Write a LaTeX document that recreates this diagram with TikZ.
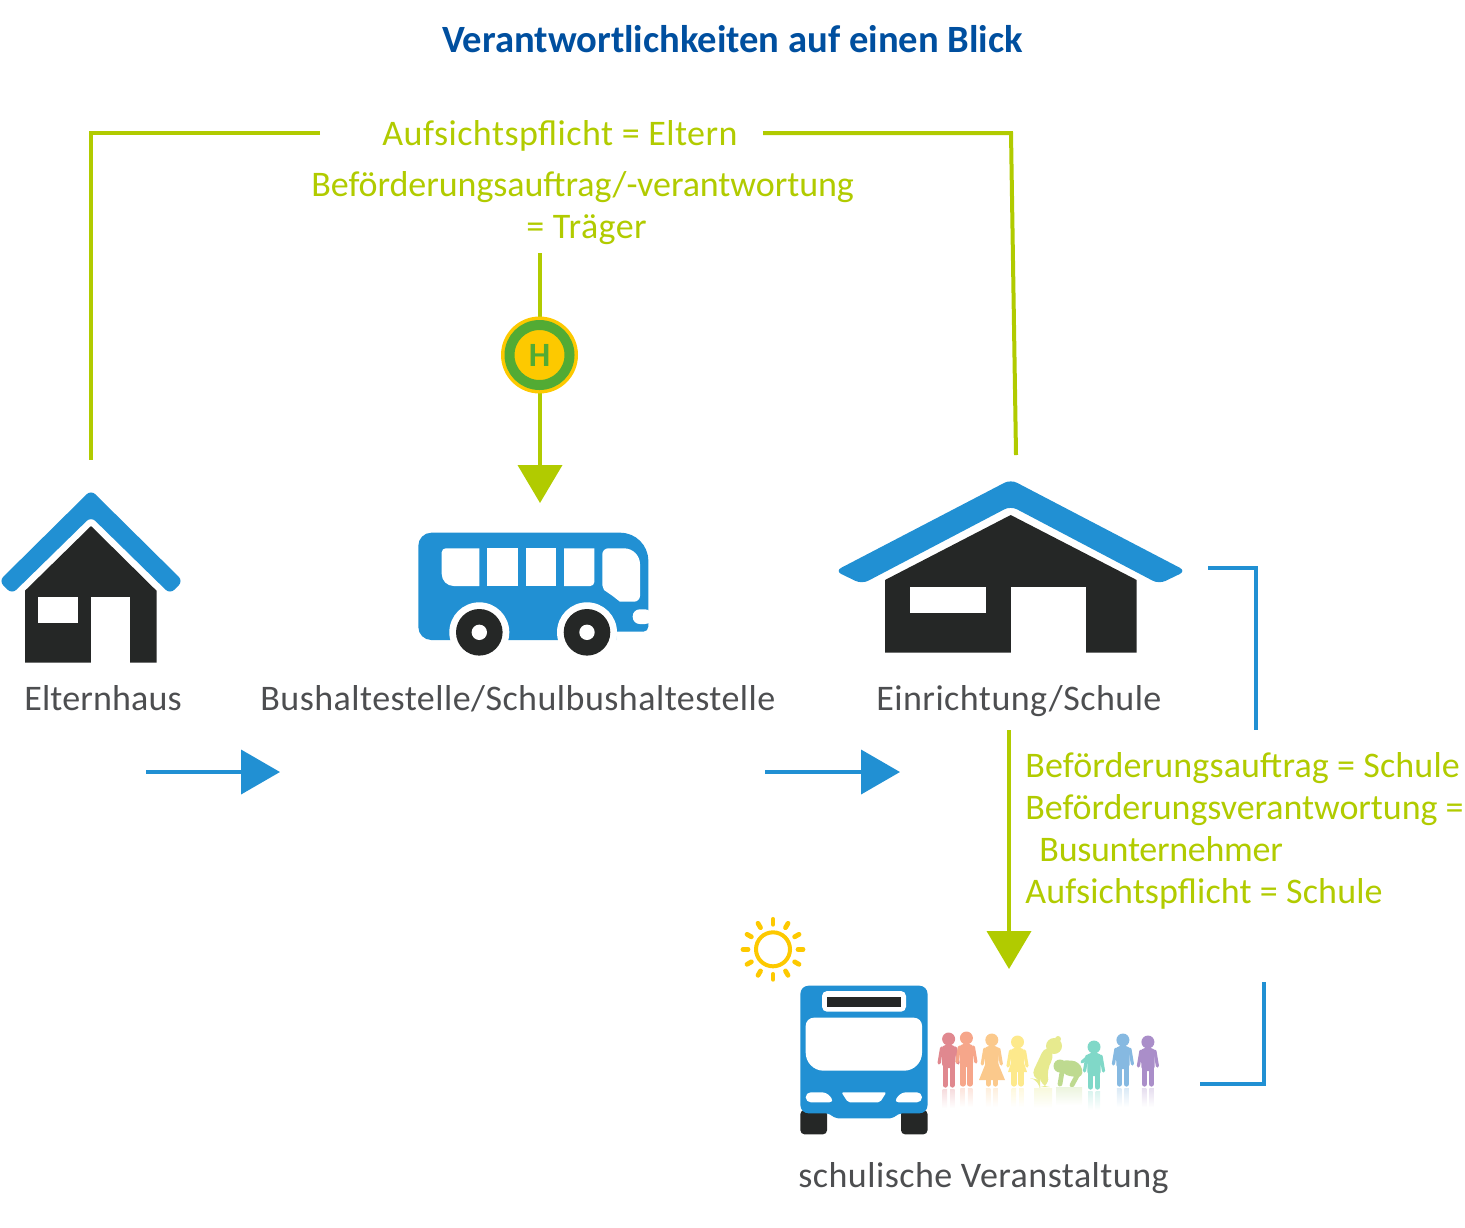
\documentclass[tikz,border=0pt]{standalone}
\usepackage{fontspec}
\setmainfont{Carlito}
\newfontfamily\wide[LetterSpace=1.3]{Carlito}
\newfontfamily\halfwide[LetterSpace=.4]{Carlito}
\newfontfamily\closefont[LetterSpace=-.15]{Carlito}
\newfontfamily\closerfont[LetterSpace=-.8]{Carlito}
\usetikzlibrary{arrows.meta}
\definecolor{lime}{HTML}{B1CB00}
\definecolor{busblue}{HTML}{2190D3}
\definecolor{coal}{HTML}{252726}
\definecolor{word}{HTML}{4D4E50}
\definecolor{titleblue}{HTML}{004F9F}
\definecolor{stopyellow}{HTML}{FDC900}
\definecolor{stopgreen}{HTML}{52AB34}
\definecolor{kida}{HTML}{E0888F}
\definecolor{kidb}{HTML}{F6A68A}
\definecolor{kidc}{HTML}{FBC98C}
\definecolor{kidd}{HTML}{FDE98C}
\definecolor{kide}{HTML}{E7EA8E}
\definecolor{kidf}{HTML}{BEDA90}
\definecolor{kidg}{HTML}{80D8C8}
\definecolor{kidh}{HTML}{86B9E1}
\definecolor{kidi}{HTML}{AA8EC9}
\tikzset{
  greenline/.style={draw=lime,line width=2pt},
  blueline/.style={draw=busblue,line width=2pt},
  greenarrow/.style={greenline,-{Triangle[length=19pt,width=22pt]}},
  bluearrow/.style={blueline,-{Triangle[length=19.5pt,width=22pt]}},
  greentext/.style={text=lime,font=\wide\fontsize{18}{21}\selectfont,inner sep=0pt,anchor=base west},
  graytext/.style={text=word,font=\wide\fontsize{18}{21}\selectfont,inner sep=0pt,anchor=base west},
  haltstop/.style={circle,draw=stopgreen,fill=stopyellow,line width=5pt,minimum size=30pt,inner sep=0pt,
    text=stopgreen,font=\bfseries\fontsize{17}{17}\selectfont},
}
\begin{document}
\begin{tikzpicture}[x=.5pt,y=-.5pt]
\useasboundingbox (0,0) rectangle (1465,1227);

\node[text=titleblue,font=\bfseries\fontsize{19.3}{23}\selectfont,inner sep=0pt,anchor=base] (title) at (732.5,52) {Verantwortlichkeiten auf einen Blick};

\node[greentext] (pflicht) at (382,145) {Aufsichtspflicht = Eltern};
\node[greentext] (auftrag) at (311,196) {\closefont Beförderungsauftrag/-verantwortung};
\node[greentext] (traeger) at (526,238) {= Träger};
\node[graytext] (eltern) at (24,710) {\halfwide Elternhaus};
\node[graytext] (halte) at (260,710) {Bushaltestelle/Schulbushaltestelle};
\node[graytext] (schule) at (876,710) {Einrichtung/Schule};
\node[greentext] (listA) at (1025,777) {\halfwide Beförderungsauftrag = Schule};
\node[greentext] (listB) at (1025,819) {\closefont Beförderungsverantwortung =};
\node[greentext] (listC) at (1039,861) {\closerfont Busunternehmer};
\node[greentext] (listD) at (1025,903) {\halfwide Aufsichtspflicht = Schule};
\node[graytext] (fahrt) at (798,1187) {schulische Veranstaltung};

% house
\fill[coal] (91,526)--(156.5,590.7)--(156.5,662.7)--(25,662.7)--(25,590.7)--cycle;
\fill[white] (38.3,597.3) rectangle (77.7,623.3);
\fill[white] (91,597.3) rectangle (130,662.7);
\fill[busblue,rounded corners=3pt] (91,490)--(183,581)--(170,594)--(91,516.7)--(12,594)--(-1,581)--cycle;

% building
\fill[coal] (1010.7,515)--(1136.7,580)--(1136.7,652.7)--(885,652.7)--(885,580)--cycle;
\fill[white] (910,586.7) rectangle (985.7,613.3);
\fill[white] (1011,586.7) rectangle (1086.3,652.7);
\fill[busblue,rounded corners=3.5pt] (1010.7,479.5)--(1186,571)--(1159,584)--(1010.7,506)--(862,584)--(835,571)--cycle;

% side view of the bus
\fill[busblue] (440,640) [rounded corners=6.5pt] --(418.3,640)--(418.3,532.7)
  [rounded corners=14pt] --(648.3,532.7) [rounded corners=2.5pt] --(648.3,631.7)
  [sharp corners] --(616,631.7)--(616,640)--cycle;
\fill[white] (479.3,586) [rounded corners=6pt] --(441.7,586) [rounded corners=2pt] --(441.7,548.3) [sharp corners] --(479.3,548.3)--cycle;
\fill[white] (487.3,548.3) rectangle (517.7,586);
\fill[white] (525.7,548.3) rectangle (556,586);
\fill[white] (564,548.3)--(594.3,548.3) [rounded corners=2pt] --(594.3,586) [sharp corners] --(564,586)--cycle;
\fill[white] (602.3,585) [rounded corners=3pt] --(602.3,548.3) [rounded corners=8pt] --(640,548.3)
  [rounded corners=3pt] --(640,601.7) [sharp corners] --(620,601.7)--(612,595.5)--(604,590)--cycle;
\fill[white,rounded corners=3.5pt] (652,609.3)--(632.7,609.3)--(632.7,624)--(652,624)--cycle;
\foreach \x in {479.3,587}{
  \fill[white] (\x,632.3) circle (30);
  \fill[coal] (\x,632.3) circle (23.3);
  \fill[white] (\x,632.3) circle (7.7);}

% stop sign on the line
\coordinate (ziel) at (540,503);
\coordinate (start) at (540,253);
\draw[greenarrow] (start)--(ziel);
\fill[stopyellow] (539.5,355) circle (38.5);
\node[haltstop] (halt) at (539.5,355) {H};

% lines
\coordinate (pflichtL) at (320,133);
\coordinate (pflichtR) at (763,133);
\coordinate (hausOben) at (91,460);
\coordinate (ecke) at (1011,133);
\coordinate (schuleOben) at (1016,455);
\draw[greenline] (pflichtL)-|(hausOben);
\draw[greenline] (pflichtR)--(ecke)--(schuleOben);
\coordinate (pfeilA) at (146,772);
\coordinate (pfeilB) at (280,772);
\coordinate (pfeilC) at (765,772);
\coordinate (pfeilD) at (900,772);
\draw[bluearrow] (pfeilA)--(pfeilB);
\draw[bluearrow] (pfeilC)--(pfeilD);
\coordinate (abA) at (1009,730);
\coordinate (abB) at (1009,969);
\draw[greenarrow] (abA)--(abB);
\coordinate (klaA) at (1208,568);
\coordinate (klaB) at (1256,730);
\coordinate (klaC) at (1264,982);
\coordinate (klaD) at (1200,1084);
\draw[blueline] (klaA)-|(klaB);
\draw[blueline] (klaC)|-(klaD);

% front view of the bus
\fill[coal,rounded corners=2pt] (800.4,1110) rectangle (827,1134.3);
\fill[coal,rounded corners=2pt] (901,1110) rectangle (927.5,1134.3);
\fill[busblue] (864,985.7) [rounded corners=4pt] --(927.5,985.7)--(927.5,1113.3)
  [rounded corners=1pt] --(900,1113.3)--(892,1118.3)--(836,1118.3)--(828,1113.3)
  [rounded corners=4pt] --(800.4,1113.3)--(800.4,985.7)--cycle;
\fill[white,rounded corners=2.5pt] (822,991) rectangle (906,1011.7);
\fill[coal] (827,996.7) rectangle (901.4,1007.3);
\fill[white] (864,1017.7) [rounded corners=4pt] --(922,1017.7) [rounded corners=9pt] --(922,1070.7)
  --(805.7,1070.7) [rounded corners=4pt] --(805.7,1017.7)--cycle;
\fill[white,rounded corners=2.5pt] (805.7,1102.3)--(805.7,1092.3)--(827,1092.3)--(834.5,1102.3)--cycle;
\fill[white,rounded corners=1pt] (841.4,1092.3)--(886.4,1092.3)--(880,1102.3)--(848,1102.3)--cycle;
\fill[white,rounded corners=2.5pt] (922,1102.3)--(922,1092.3)--(901,1092.3)--(893.5,1102.3)--cycle;

% sun
\draw[stopyellow,line width=2pt] (773,949.3) circle (17);
\foreach \a in {0,30,...,330}{
  \draw[stopyellow,line width=2.4pt,line cap=round] (773,949.3)+(\a:25)--+(\a:30);}

% children
\foreach \x/\h/\f/\col in {948.6/1039/1088/kida,966.4/1038/1087/kidb,991.8/1040/1087/kidc,1017.5/1042/1087/kidd,
    1094/1047/1090/kidg,1122.9/1040/1087/kidh,1147.9/1042/1087/kidi}{
  \fill[\col] (\x,\h) circle (6.5);
  \fill[\col,rounded corners=2pt] (\x-7,\h+6)--(\x+7,\h+6)--(\x+6.5,\h+29)--(\x-6.5,\h+29)--cycle;
  \draw[\col,line width=2.6pt,line cap=round] (\x-3.5,\h+26)--(\x-3.5,\f-3);
  \draw[\col,line width=2.6pt,line cap=round] (\x+3.5,\h+26)--(\x+3.5,\f-3);
  \draw[\col,line width=1.6pt,line cap=round] (\x-7,\h+9)--(\x-9.5,\h+24);
  \draw[\col,line width=1.6pt,line cap=round] (\x+7,\h+9)--(\x+9.5,\h+24);
  \shade[top color=\col!30,bottom color=white] (\x-6,\f+1) rectangle (\x-1.5,\f+20);
  \shade[top color=\col!30,bottom color=white] (\x+1.5,\f+1) rectangle (\x+6,\f+20);}
% dresses
\fill[kidc] (991.8,1048)--(1005,1080)--(979,1080)--cycle;
\fill[kidd] (1017.5,1044)--(1027,1072)--(1008,1072)--cycle;
% reaching arm
\draw[kidg,line width=1.6pt,line cap=round] (1090,1055)--(1082,1062);

% bent child and small one on the ground
\fill[kide] (1054,1046) circle (8);
\fill[kide] (1058,1039) circle (3);
\fill[kide,rounded corners=5pt] (1046,1044)--(1056,1054)--(1046,1070)--(1050,1087)--(1040,1087)--(1040,1080)--(1030,1078)--cycle;
\shade[top color=kide!30,bottom color=white] (1034,1088) rectangle (1052,1108);
\fill[kidf] (1060,1066) circle (6.5);
\fill[kidf,rounded corners=4pt] (1058,1060)--(1080,1061)--(1084,1078)--(1062,1075)--cycle;
\draw[kidf,line width=2.4pt,line cap=round] (1062,1072)--(1060,1084);
\draw[kidf,line width=2.4pt,line cap=round] (1078,1074)--(1072,1085);
\shade[top color=kidf!30,bottom color=white] (1056,1087) rectangle (1082,1105);

\end{tikzpicture}
\end{document}
